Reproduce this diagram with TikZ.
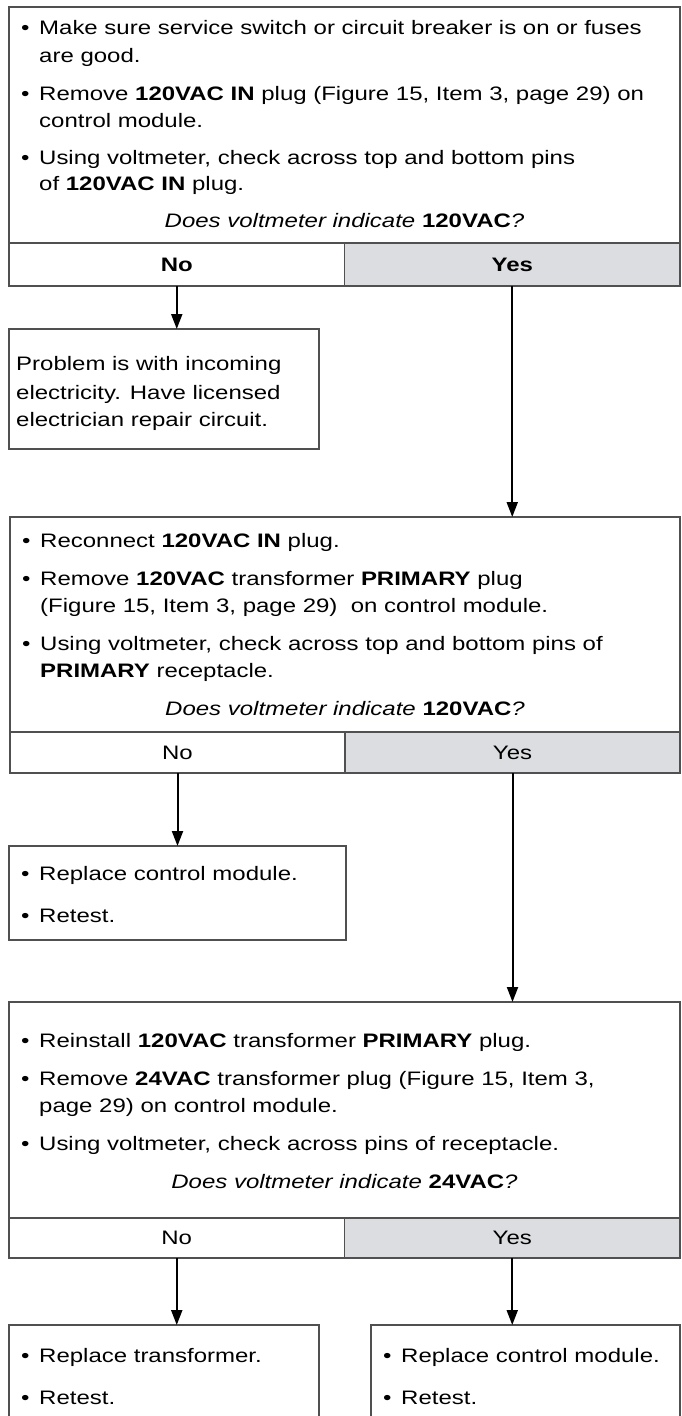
\documentclass[tikz,border=0pt]{standalone}
\usepackage{fontspec}
\setmainfont{Liberation Sans}[FakeStretch=1.23]
\usetikzlibrary{arrows.meta}
\definecolor{cellgray}{RGB}{220,221,224}
\definecolor{linegray}{RGB}{80,80,80}
\newcommand{\bul}{\makebox[18pt][l]{\textbullet}}

\begin{document}
\begin{tikzpicture}[x=1pt,y=-1pt,
  box/.style={draw=linegray,line width=1.3pt,anchor=north west,outer sep=0pt,inner sep=0pt},
  cell/.style={box,font=\fontsize{19.5}{24}\selectfont},
  txt/.style={anchor=base west,inner sep=0pt,font=\fontsize{19.5}{24}\selectfont},
  ask/.style={anchor=base,inner sep=0pt,font=\fontsize{19.5}{24}\selectfont\itshape},
  arr/.style={-{Triangle[length=15pt,width=11pt]},line width=2pt}]
\path[use as bounding box] (0,0) rectangle (681,1416);
\clip (0,0) rectangle (681,1416);
% first check
\node[box,minimum width=671pt,minimum height=236pt] (box1) at (9,7) {};
\node[cell,minimum width=335.5pt,minimum height=43pt] (no1) at (9,243) {\bfseries No};
\node[cell,fill=cellgray,minimum width=335.5pt,minimum height=43pt] (yes1) at (344.5,243) {\bfseries Yes};
\node[txt] (t1a) at (21,34) {\bul Make sure service switch or circuit breaker is on or fuses};
\node[txt] (t1b) at (39,62) {are good.};
\node[txt] (t1c) at (21,100) {\bul Remove \textbf{120VAC IN} plug (Figure 15, Item 3, page 29) on};
\node[txt] (t1d) at (39,127) {control module.};
\node[txt] (t1e) at (21,164) {\bul Using voltmeter, check across top and bottom pins};
\node[txt] (t1f) at (39,190) {of \textbf{120VAC IN} plug.};
\node[ask] (q1) at (344.5,227) {Does voltmeter indicate \textbf{\upshape 120VAC}?};
% no power
\node[box,minimum width=310pt,minimum height=120pt] (box2) at (9,329) {};
\node[txt] (t2a) at (16,370) {Problem is with incoming};
\node[txt] (t2b) at (16,399) {electricity. Have licensed};
\node[txt] (t2c) at (16,426) {electrician repair circuit.};
% second check
\node[box,minimum width=670pt,minimum height=215pt] (box3) at (10,517) {};
\node[cell,minimum width=335pt,minimum height=41pt] (no2) at (10,732) {No};
\node[cell,fill=cellgray,minimum width=335pt,minimum height=41pt] (yes2) at (345,732) {Yes};
\node[txt] (t3a) at (22,547) {\bul Reconnect \textbf{120VAC IN} plug.};
\node[txt] (t3b) at (22,585) {\bul Remove \textbf{120VAC} transformer \textbf{PRIMARY} plug};
\node[txt] (t3c) at (40,612) {(Figure 15, Item 3, page 29)\ \ on control module.};
\node[txt] (t3d) at (22,650) {\bul Using voltmeter, check across top and bottom pins of};
\node[txt] (t3e) at (40,677) {\textbf{PRIMARY} receptacle.};
\node[ask] (q2) at (345,715) {Does voltmeter indicate \textbf{\upshape 120VAC}?};
% bad module
\node[box,minimum width=337pt,minimum height=94pt] (box4) at (9,846) {};
\node[txt] (t4a) at (21,880) {\bul Replace control module.};
\node[txt] (t4b) at (21,922) {\bul Retest.};
% third check
\node[box,minimum width=671pt,minimum height=216pt] (box5) at (9,1002) {};
\node[cell,minimum width=335.5pt,minimum height=40pt] (no3) at (9,1218) {No};
\node[cell,fill=cellgray,minimum width=335.5pt,minimum height=40pt] (yes3) at (344.5,1218) {Yes};
\node[txt] (t5a) at (21,1047) {\bul Reinstall \textbf{120VAC} transformer \textbf{PRIMARY} plug.};
\node[txt] (t5b) at (21,1085) {\bul Remove \textbf{24VAC} transformer plug (Figure 15, Item 3,};
\node[txt] (t5c) at (39,1112) {page 29) on control module.};
\node[txt] (t5d) at (21,1150) {\bul Using voltmeter, check across pins of receptacle.};
\node[ask] (q3) at (344.5,1188) {Does voltmeter indicate \textbf{\upshape 24VAC}?};
% last results
\node[box,minimum width=310pt,minimum height=120pt] (box6) at (9,1325) {};
\node[txt] (t6a) at (21,1362) {\bul Replace transformer.};
\node[txt] (t6b) at (21,1404) {\bul Retest.};
\node[box,minimum width=309pt,minimum height=120pt] (box7) at (371,1325) {};
\node[txt] (t7a) at (383,1362) {\bul Replace control module.};
\node[txt] (t7b) at (383,1404) {\bul Retest.};
% arrows
\draw[arr] (no1.south) -- (no1.south |- box2.north);
\draw[arr] (yes1.south) -- (yes1.south |- box3.north);
\draw[arr] (no2.south) -- (no2.south |- box4.north);
\draw[arr] (yes2.south) -- (yes2.south |- box5.north);
\draw[arr] (no3.south) -- (no3.south |- box6.north);
\draw[arr] (yes3.south) -- (yes3.south |- box7.north);
\end{tikzpicture}
\end{document}
